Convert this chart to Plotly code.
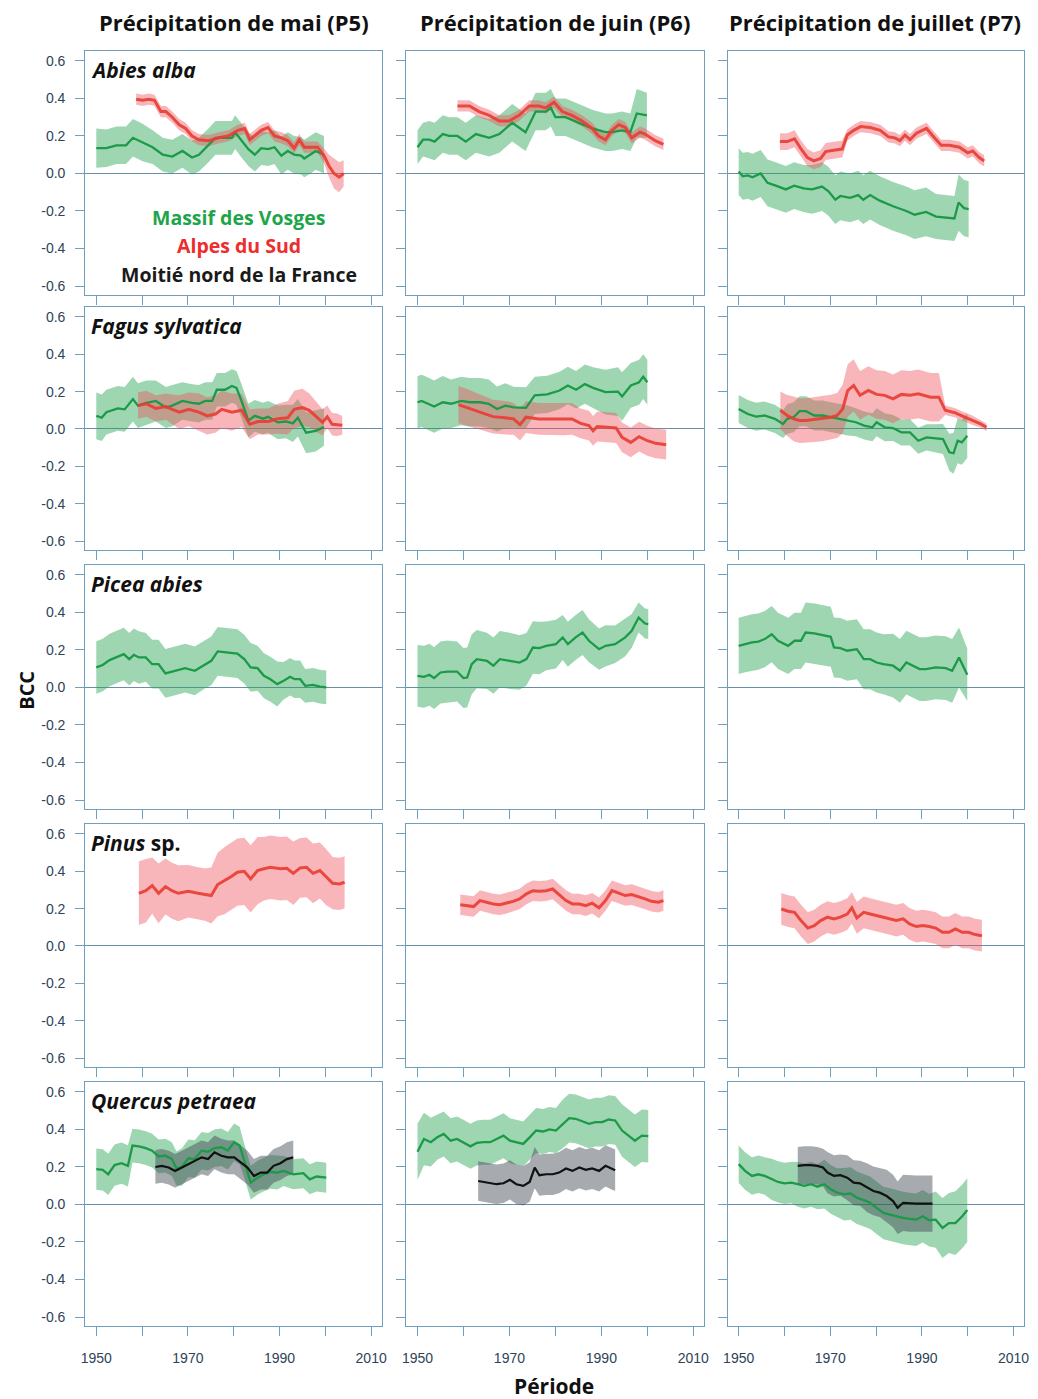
import plotly.graph_objects as go

W, H = 1038, 1399

# ---------------- DATA (BCC moving-window values) ----------------
# Abies alba
abies_p5_vosges_year = [1950, 1952.2, 1954.4, 1956.5, 1958, 1960.1, 1962.3, 1964.5, 1966.6, 1968.8, 1970.9, 1972.4, 1974.5, 1976, 1977.4, 1979.6, 1980.3, 1981.7, 1983.2, 1984.6, 1986, 1987.5, 1988.9, 1990.4, 1991.8, 1993.2, 1994.7, 1995.4, 1996.8, 1997.9, 1999.7]
abies_p5_vosges_mean = [0.135, 0.135, 0.15, 0.15, 0.19, 0.165, 0.14, 0.10, 0.09, 0.12, 0.085, 0.10, 0.15, 0.19, 0.19, 0.19, 0.22, 0.175, 0.13, 0.10, 0.135, 0.13, 0.14, 0.095, 0.12, 0.10, 0.095, 0.08, 0.10, 0.12, 0.10]
abies_p5_vosges_hw = [0.105, 0.1, 0.1, 0.1, 0.1, 0.1, 0.09, 0.09, 0.09, 0.09, 0.09, 0.09, 0.09, 0.09, 0.09, 0.09, 0.09, 0.09, 0.09, 0.09, 0.09, 0.09, 0.09, 0.1, 0.1, 0.1, 0.1, 0.1, 0.1, 0.1, 0.1]
abies_p5_alpes_year = [1958.7, 1960.1, 1961.5, 1962.7, 1964.1, 1965.2, 1966.6, 1968.1, 1969.5, 1970.9, 1972.4, 1974.5, 1976.7, 1978.8, 1980.9, 1982.4, 1983.5, 1984.6, 1986, 1987.5, 1988.9, 1990.4, 1991.8, 1993.2, 1994.3, 1995.4, 1996.8, 1998.3, 1999.7, 2000.8, 2001.9, 2003, 2004]
abies_p5_alpes_mean = [0.396, 0.39, 0.396, 0.39, 0.33, 0.33, 0.30, 0.26, 0.24, 0.20, 0.18, 0.175, 0.19, 0.20, 0.23, 0.24, 0.18, 0.20, 0.23, 0.245, 0.20, 0.19, 0.175, 0.135, 0.18, 0.14, 0.14, 0.14, 0.095, 0.04, 0.0, -0.02, 0.0]
abies_p5_alpes_hw = [0.03] * 28 + [0.04, 0.06, 0.08, 0.08, 0.07]

abies_p6_vosges_year = [1950, 1951.2, 1952.6, 1953.7, 1955.5, 1956.9, 1958.7, 1960.5, 1962.7, 1965.6, 1967.8, 1970.6, 1973.5, 1975.7, 1977.9, 1979, 1980, 1982.2, 1985.1, 1988, 1990.9, 1992.3, 1994.5, 1996.3, 1997.7, 1999.9]
abies_p6_vosges_mean = [0.14, 0.18, 0.18, 0.17, 0.21, 0.2, 0.2, 0.17, 0.21, 0.19, 0.21, 0.27, 0.22, 0.33, 0.33, 0.35, 0.30, 0.30, 0.27, 0.24, 0.22, 0.22, 0.23, 0.22, 0.32, 0.31]
abies_p6_vosges_hw = [0.09, 0.09] + [0.1] * 22 + [0.13, 0.12]
abies_p6_alpes_year = [1958.7, 1961.3, 1963.4, 1965.6, 1967.8, 1969.9, 1972.1, 1974.3, 1976.4, 1977.9, 1979.7, 1981.5, 1983.6, 1985.8, 1988, 1989.4, 1990.9, 1992.3, 1993.8, 1995.2, 1996.6, 1998.4, 1999.5, 2001.7, 2003.5]
abies_p6_alpes_mean = [0.36, 0.36, 0.33, 0.31, 0.28, 0.28, 0.31, 0.36, 0.36, 0.35, 0.38, 0.33, 0.31, 0.28, 0.24, 0.2, 0.18, 0.23, 0.26, 0.245, 0.19, 0.22, 0.21, 0.175, 0.155]
abies_p6_alpes_hw = [0.03] * 25

abies_p7_vosges_year = [1950, 1950.9, 1952, 1953, 1954.8, 1956.3, 1958.1, 1960.3, 1962.1, 1964.2, 1966, 1968.2, 1969.6, 1971.1, 1972.2, 1974.3, 1976.1, 1977.2, 1978.7, 1980.8, 1983.7, 1986.6, 1988.4, 1990.9, 1993.1, 1995.3, 1997.1, 1998, 1999.2, 2000.2]
abies_p7_vosges_mean = [0.01, -0.015, -0.01, -0.02, 0.0, -0.05, -0.065, -0.085, -0.065, -0.08, -0.085, -0.07, -0.095, -0.14, -0.12, -0.13, -0.115, -0.14, -0.115, -0.145, -0.175, -0.2, -0.22, -0.205, -0.23, -0.235, -0.24, -0.155, -0.185, -0.19]
abies_p7_vosges_hw = [0.125] * 10 + [0.13] * 10 + [0.13, 0.13, 0.13, 0.13, 0.12, 0.12, 0.12, 0.15, 0.15, 0.15]
abies_p7_alpes_year = [1959, 1960.6, 1962.2, 1963.5, 1965, 1966.4, 1967.9, 1969, 1971.1, 1972.6, 1973.7, 1975.1, 1976.6, 1978.7, 1980.9, 1982.7, 1984.1, 1985.2, 1986.3, 1987.4, 1988.8, 1991, 1992.4, 1994.2, 1996, 1998.2, 2000, 2001.1, 2002.5, 2003.6]
abies_p7_alpes_mean = [0.17, 0.17, 0.185, 0.135, 0.085, 0.067, 0.08, 0.117, 0.125, 0.13, 0.205, 0.23, 0.25, 0.245, 0.23, 0.195, 0.19, 0.175, 0.205, 0.18, 0.215, 0.24, 0.2, 0.15, 0.15, 0.14, 0.11, 0.12, 0.085, 0.067]
abies_p7_alpes_hw = [0.045] * 10 + [0.03] * 20

# Fagus sylvatica
fagus_p5_vosges_year = [1950, 1951.2, 1952.2, 1953.3, 1954.7, 1956.2, 1958, 1959.1, 1960.9, 1963, 1965.2, 1966.6, 1968.8, 1970.9, 1972.4, 1973.8, 1975.3, 1976.3, 1978.1, 1979.6, 1980.6, 1981.7, 1983.2, 1984.6, 1986.4, 1987.5, 1989.6, 1991.4, 1992.9, 1994, 1995.8, 1997.9, 1999.7]
fagus_p5_vosges_mean = [0.07, 0.06, 0.09, 0.1, 0.11, 0.105, 0.16, 0.125, 0.14, 0.15, 0.115, 0.125, 0.15, 0.14, 0.135, 0.15, 0.15, 0.21, 0.21, 0.23, 0.22, 0.15, 0.045, 0.07, 0.055, 0.065, 0.035, 0.04, 0.03, 0.06, -0.02, -0.01, 0.01]
fagus_p5_vosges_hw = [0.125, 0.125, 0.12, 0.12, 0.12, 0.12, 0.12, 0.12, 0.12, 0.11, 0.11, 0.11, 0.1, 0.1, 0.1, 0.1, 0.1, 0.09, 0.09, 0.09, 0.09, 0.09, 0.09, 0.085, 0.085, 0.085, 0.09, 0.09, 0.1, 0.1, 0.11, 0.11, 0.1]
fagus_p5_alpes_year = [1959.1, 1960.9, 1963, 1965.2, 1966.6, 1968.1, 1970.2, 1972.4, 1974.2, 1976, 1977.4, 1979.6, 1981.7, 1983.5, 1985.3, 1987.5, 1989.6, 1991.8, 1993.2, 1995, 1996.5, 1998.3, 1999.4, 2000.4, 2001.5, 2002.6, 2003.7]
fagus_p5_alpes_mean = [0.125, 0.135, 0.11, 0.12, 0.105, 0.09, 0.105, 0.09, 0.07, 0.08, 0.105, 0.09, 0.1, 0.025, 0.04, 0.04, 0.055, 0.06, 0.105, 0.115, 0.1, 0.06, 0.035, 0.065, 0.025, 0.023, 0.02]
fagus_p5_alpes_hw = [0.07, 0.07, 0.07, 0.07, 0.08, 0.09, 0.09, 0.1, 0.1, 0.1, 0.1, 0.1, 0.09, 0.08, 0.07, 0.07, 0.08, 0.09, 0.1, 0.1, 0.09, 0.08, 0.07, 0.06, 0.06, 0.06, 0.05]

fagus_p6_vosges_year = [1950, 1950.9, 1952.3, 1953.6, 1955.5, 1957.3, 1959.5, 1961.4, 1963.6, 1965.5, 1967.3, 1969.1, 1970.9, 1973.6, 1975.5, 1978.2, 1980.9, 1982.7, 1984.5, 1986.4, 1988.2, 1990.9, 1993.6, 1994.5, 1996.4, 1998.2, 1999.1, 2000]
fagus_p6_vosges_mean = [0.143, 0.15, 0.135, 0.12, 0.143, 0.135, 0.15, 0.143, 0.143, 0.135, 0.107, 0.125, 0.116, 0.113, 0.18, 0.185, 0.206, 0.233, 0.21, 0.24, 0.22, 0.197, 0.2, 0.174, 0.233, 0.25, 0.28, 0.25]
fagus_p6_vosges_hw = [0.14, 0.14, 0.14, 0.14, 0.14, 0.13, 0.13, 0.13, 0.13, 0.13, 0.12, 0.12, 0.11, 0.11, 0.1, 0.1, 0.1, 0.1, 0.1, 0.105, 0.11, 0.12, 0.13, 0.13, 0.12, 0.12, 0.12, 0.12]
fagus_p6_alpes_year = [1958.9, 1960.9, 1963.6, 1966.4, 1969.1, 1970.9, 1972.3, 1973.6, 1976.4, 1979.1, 1981.8, 1983.6, 1985.5, 1987.3, 1988.2, 1989.1, 1991.4, 1993.2, 1994.5, 1996.4, 1998.2, 2000, 2001.8, 2004.1]
fagus_p6_alpes_mean = [0.13, 0.113, 0.09, 0.066, 0.06, 0.054, 0.023, 0.063, 0.054, 0.054, 0.052, 0.054, 0.03, 0.018, -0.01, 0.013, 0.009, 0.005, -0.045, -0.072, -0.041, -0.063, -0.077, -0.084]
fagus_p6_alpes_hw = [0.1, 0.1, 0.095, 0.09, 0.09] + [0.085] * 7 + [0.08] * 12

fagus_p7_vosges_year = [1950, 1952, 1953.8, 1955.6, 1957.9, 1959.7, 1960.6, 1962, 1963.3, 1964.7, 1966.5, 1968.3, 1970.1, 1971.9, 1973.8, 1975.6, 1977.4, 1979.2, 1980.1, 1981.9, 1983.7, 1985.5, 1987.4, 1989.2, 1991, 1992.8, 1994.6, 1996, 1996.9, 1997.8, 1998.7, 1999.9]
fagus_p7_vosges_mean = [0.107, 0.08, 0.066, 0.072, 0.054, 0.027, 0.054, 0.063, 0.095, 0.095, 0.072, 0.072, 0.063, 0.054, 0.045, 0.036, 0.018, 0.009, 0.036, 0.009, 0.005, -0.018, -0.018, -0.063, -0.045, -0.05, -0.054, -0.125, -0.13, -0.063, -0.072, -0.036]
fagus_p7_vosges_hw = [0.075] * 6 + [0.08] * 9 + [0.075] * 5 + [0.07] * 5 + [0.075, 0.08, 0.1, 0.11, 0.12, 0.12, 0.12]
fagus_p7_alpes_year = [1959.1, 1960.6, 1962, 1963.3, 1964.7, 1966.5, 1968.3, 1970.1, 1971.5, 1972.7, 1973.8, 1975.1, 1976.5, 1978.3, 1980.1, 1981.9, 1983.7, 1985.5, 1987.4, 1989.2, 1991.9, 1993.7, 1995.1, 1997.3, 1999.1, 2000.9, 2002.8, 2004.1]
fagus_p7_alpes_mean = [0.1, 0.072, 0.054, 0.045, 0.045, 0.05, 0.054, 0.063, 0.072, 0.107, 0.206, 0.233, 0.18, 0.206, 0.185, 0.18, 0.161, 0.185, 0.18, 0.188, 0.17, 0.17, 0.1, 0.086, 0.066, 0.048, 0.027, 0.009]
fagus_p7_alpes_hw = [0.1, 0.11, 0.12, 0.12, 0.12, 0.12, 0.12, 0.12, 0.12, 0.13, 0.14, 0.14] + [0.13] * 10 + [0.025, 0.025, 0.025, 0.025, 0.02, 0.02]

# Picea abies
picea_p5_vosges_year = [1950, 1951.4, 1952.9, 1955, 1956, 1957.2, 1958.2, 1959.3, 1960.8, 1962.2, 1963.6, 1965.1, 1967.2, 1969.4, 1971.5, 1973.7, 1975.1, 1976.5, 1978.7, 1980.8, 1982.3, 1983.7, 1985.2, 1986.6, 1988, 1989.5, 1990.9, 1992.3, 1993.3, 1994.5, 1995.6, 1997.3, 1998.8, 2000.2]
picea_p5_vosges_mean = [0.107, 0.12, 0.146, 0.169, 0.178, 0.151, 0.174, 0.16, 0.16, 0.124, 0.124, 0.075, 0.089, 0.103, 0.089, 0.124, 0.142, 0.192, 0.187, 0.181, 0.151, 0.107, 0.103, 0.062, 0.044, 0.018, 0.036, 0.057, 0.044, 0.044, 0.009, 0.014, 0.004, 0.0]
picea_p5_vosges_hw = [0.14] * 8 + [0.13] * 14 + [0.12] * 4 + [0.1] * 4 + [0.09] * 4

picea_p6_vosges_year = [1950, 1951.4, 1952.6, 1953.6, 1955, 1956.5, 1958.6, 1960, 1960.8, 1961.8, 1962.9, 1965.1, 1966.5, 1967.9, 1970.1, 1972.2, 1973.7, 1975.1, 1976.5, 1978, 1980.1, 1981.6, 1982.7, 1984.4, 1985.9, 1987.3, 1989.5, 1990.9, 1993, 1995.2, 1996.6, 1998.1, 1999.5, 2000.2]
picea_p6_vosges_mean = [0.062, 0.057, 0.068, 0.05, 0.08, 0.085, 0.085, 0.05, 0.053, 0.124, 0.151, 0.142, 0.116, 0.151, 0.142, 0.133, 0.151, 0.213, 0.21, 0.222, 0.231, 0.267, 0.231, 0.267, 0.293, 0.249, 0.204, 0.222, 0.231, 0.267, 0.302, 0.373, 0.341, 0.338]
picea_p6_vosges_hw = [0.165] * 6 + [0.16] * 4 + [0.155, 0.15, 0.15, 0.15, 0.15, 0.145, 0.14, 0.14, 0.14, 0.13, 0.13, 0.12, 0.12, 0.12, 0.12, 0.115, 0.11, 0.11, 0.1, 0.1, 0.09, 0.08, 0.08, 0.08]

picea_p7_vosges_year = [1950, 1951.4, 1952.9, 1954.3, 1955.7, 1957.2, 1958.6, 1960.8, 1962.2, 1963.6, 1964.6, 1966.5, 1968.7, 1970.1, 1970.8, 1972.2, 1973.7, 1975.8, 1977.3, 1978.7, 1980.1, 1981.6, 1983.7, 1985.2, 1986.6, 1988, 1989.5, 1990.9, 1993, 1995.2, 1996.6, 1998.1, 1999.1, 1999.9]
picea_p7_vosges_mean = [0.222, 0.231, 0.24, 0.245, 0.258, 0.284, 0.249, 0.222, 0.249, 0.249, 0.293, 0.288, 0.276, 0.27, 0.213, 0.21, 0.196, 0.204, 0.151, 0.151, 0.133, 0.124, 0.116, 0.089, 0.133, 0.116, 0.098, 0.098, 0.107, 0.103, 0.089, 0.16, 0.107, 0.068]
picea_p7_vosges_hw = [0.15] * 10 + [0.16] * 12 + [0.17] * 9 + [0.16, 0.15, 0.14]

# Pinus sp.
pinus_p5_alpes_year = [1959.3, 1960.8, 1962.2, 1963.6, 1965.1, 1966.5, 1967.9, 1970.1, 1972.2, 1973.7, 1975.1, 1976.5, 1978, 1979.4, 1980.8, 1982.3, 1983.7, 1985.2, 1986.6, 1988, 1990.2, 1991.6, 1993, 1994.5, 1995.9, 1997.3, 1998.8, 2000.2, 2001.6, 2003.1, 2004.2]
pinus_p5_alpes_mean = [0.282, 0.296, 0.323, 0.282, 0.318, 0.296, 0.282, 0.293, 0.282, 0.275, 0.27, 0.329, 0.35, 0.371, 0.395, 0.4, 0.359, 0.404, 0.413, 0.421, 0.413, 0.416, 0.389, 0.418, 0.421, 0.389, 0.404, 0.368, 0.336, 0.332, 0.341]
pinus_p5_alpes_hw = [0.17, 0.17, 0.15, 0.16, 0.15, 0.15, 0.15, 0.14, 0.14, 0.14, 0.15, 0.17, 0.18, 0.18, 0.18, 0.18, 0.18, 0.18, 0.17, 0.17, 0.17, 0.17, 0.17, 0.16, 0.16, 0.16, 0.15, 0.15, 0.14, 0.14, 0.14]

pinus_p6_alpes_year = [1959.3, 1960.8, 1962.2, 1963.6, 1965.1, 1966.5, 1967.9, 1969.4, 1970.8, 1972.2, 1973.7, 1975.1, 1976.5, 1978, 1979.4, 1980.8, 1982.3, 1983.7, 1985.2, 1986.6, 1988, 1989.5, 1990.9, 1992.3, 1993.7, 1995.2, 1996.6, 1998.1, 1999.5, 2000.9, 2002.4, 2003.5]
pinus_p6_alpes_mean = [0.221, 0.216, 0.211, 0.243, 0.234, 0.225, 0.221, 0.229, 0.239, 0.252, 0.279, 0.296, 0.293, 0.296, 0.305, 0.275, 0.243, 0.225, 0.225, 0.216, 0.229, 0.204, 0.243, 0.296, 0.282, 0.27, 0.275, 0.264, 0.252, 0.239, 0.234, 0.243]
pinus_p6_alpes_hw = [0.055] * 32

pinus_p7_alpes_year = [1959.3, 1960.8, 1962.2, 1963.6, 1965.1, 1966.5, 1967.9, 1969.4, 1970.8, 1972.2, 1973.7, 1974.7, 1975.8, 1977.3, 1978.7, 1980.1, 1981.6, 1983, 1984.4, 1985.9, 1987.3, 1988.8, 1990.2, 1991.6, 1993, 1994.5, 1995.9, 1997.3, 1998.8, 2000.2, 2001.6, 2003.1]
pinus_p7_alpes_mean = [0.198, 0.186, 0.18, 0.136, 0.096, 0.109, 0.136, 0.154, 0.145, 0.154, 0.171, 0.204, 0.15, 0.18, 0.171, 0.163, 0.154, 0.145, 0.136, 0.145, 0.118, 0.104, 0.109, 0.104, 0.096, 0.073, 0.073, 0.091, 0.073, 0.073, 0.061, 0.055]
pinus_p7_alpes_hw = [0.085] * 32

# Quercus petraea
quercus_p5_vosges_year = [1950, 1951.4, 1952.6, 1954, 1955.5, 1956.9, 1957.9, 1959.3, 1960.8, 1962.2, 1963.6, 1965.1, 1966.5, 1967.5, 1968.7, 1970.1, 1971.5, 1973, 1974.4, 1975.8, 1977.3, 1978.7, 1980.1, 1981.3, 1982.3, 1983.7, 1985.2, 1986.6, 1988, 1989.5, 1990.9, 1993, 1995.2, 1996.6, 1998.1, 2000.2]
quercus_p5_vosges_mean = [0.188, 0.185, 0.161, 0.21, 0.22, 0.206, 0.314, 0.31, 0.3, 0.287, 0.256, 0.26, 0.242, 0.192, 0.2, 0.246, 0.242, 0.287, 0.281, 0.3, 0.305, 0.287, 0.332, 0.314, 0.233, 0.116, 0.143, 0.161, 0.174, 0.17, 0.179, 0.161, 0.167, 0.134, 0.149, 0.143]
quercus_p5_vosges_hw = [0.11] * 6 + [0.09] * 8 + [0.1] * 10 + [0.09] * 6 + [0.08] * 6
quercus_p5_nord_year = [1962.9, 1964.3, 1965.8, 1967.2, 1968.7, 1970.1, 1971.5, 1973, 1974.4, 1975.8, 1977.3, 1978.7, 1980.1, 1981.6, 1983, 1984.4, 1985.9, 1987.3, 1988.7, 1990.2, 1991.6, 1993]
quercus_p5_nord_mean = [0.2, 0.206, 0.197, 0.179, 0.197, 0.215, 0.233, 0.251, 0.242, 0.278, 0.26, 0.251, 0.251, 0.224, 0.197, 0.152, 0.17, 0.17, 0.206, 0.22, 0.242, 0.251]
quercus_p5_nord_hw = [0.09] * 22

quercus_p6_vosges_year = [1950, 1951.4, 1952.9, 1954.3, 1955.7, 1957.2, 1958.6, 1960, 1961.5, 1962.9, 1964.3, 1965.8, 1967.2, 1968.7, 1970.1, 1971.5, 1973, 1974.4, 1975.8, 1977.3, 1978.7, 1980.1, 1981.6, 1983, 1984.4, 1985.9, 1987.3, 1988.7, 1990.2, 1991.6, 1993, 1994.5, 1995.9, 1997.3, 1998.8, 2000.2]
quercus_p6_vosges_mean = [0.281, 0.349, 0.332, 0.358, 0.376, 0.34, 0.349, 0.332, 0.31, 0.328, 0.332, 0.332, 0.349, 0.367, 0.34, 0.332, 0.323, 0.358, 0.394, 0.389, 0.4, 0.394, 0.43, 0.46, 0.457, 0.443, 0.43, 0.439, 0.439, 0.453, 0.448, 0.394, 0.367, 0.34, 0.367, 0.364]
quercus_p6_vosges_hw = [0.15, 0.14, 0.13] + [0.12] * 19 + [0.13] * 9 + [0.14] * 5
quercus_p6_nord_year = [1963.2, 1964.3, 1965.8, 1967.2, 1968.7, 1970.1, 1971.5, 1973, 1974.4, 1975.5, 1976.5, 1978, 1979.4, 1980.8, 1982.3, 1983.7, 1985.2, 1986.6, 1988, 1989.5, 1990.9, 1992.3, 1993]
quercus_p6_nord_mean = [0.125, 0.12, 0.113, 0.108, 0.113, 0.131, 0.108, 0.099, 0.12, 0.197, 0.156, 0.161, 0.161, 0.17, 0.192, 0.179, 0.197, 0.185, 0.192, 0.179, 0.206, 0.188, 0.183]
quercus_p6_nord_hw = [0.105] * 9 + [0.11] * 14

quercus_p7_vosges_year = [1950, 1951.4, 1952.9, 1954.3, 1955.7, 1957.2, 1958.6, 1960, 1961.5, 1962.9, 1964.3, 1965.8, 1967.2, 1968.7, 1970.1, 1971.5, 1973, 1974.4, 1975.8, 1977.3, 1978.7, 1980.1, 1981.6, 1983, 1984.4, 1985.9, 1987.3, 1988.7, 1990.2, 1991.6, 1993, 1994.5, 1995.9, 1997.3, 1998.8, 1999.9]
quercus_p7_vosges_mean = [0.215, 0.179, 0.152, 0.161, 0.152, 0.134, 0.12, 0.113, 0.116, 0.108, 0.099, 0.108, 0.095, 0.108, 0.081, 0.063, 0.054, 0.059, 0.036, 0.023, 0.009, -0.018, -0.045, -0.054, -0.063, -0.072, -0.077, -0.081, -0.063, -0.084, -0.081, -0.125, -0.099, -0.099, -0.063, -0.03]
quercus_p7_vosges_hw = [0.1] * 5 + [0.11] * 4 + [0.12] * 4 + [0.13] * 3 + [0.14] * 14 + [0.15, 0.16, 0.16, 0.17, 0.17, 0.17]
quercus_p7_nord_year = [1962.9, 1964.3, 1965.8, 1967.2, 1968.4, 1969.4, 1970.8, 1972.2, 1973.7, 1975.1, 1976.5, 1978, 1979.4, 1980.8, 1982.3, 1983.7, 1984.7, 1985.9, 1987.3, 1988.7, 1990.2, 1992.3]
quercus_p7_nord_mean = [0.206, 0.21, 0.21, 0.206, 0.197, 0.17, 0.152, 0.156, 0.143, 0.116, 0.113, 0.09, 0.072, 0.063, 0.045, 0.018, -0.018, 0.009, 0.005, 0.005, 0.004, 0.004]
quercus_p7_nord_hw = [0.1] * 5 + [0.11] * 3 + [0.12] * 3 + [0.13] * 3 + [0.14] * 3 + [0.15] * 5

# Labels
column_titles = ["Précipitation de mai (P5)", "Précipitation de juin (P6)", "Précipitation de juillet (P7)"]
species_labels = ["<i>Abies alba</i>", "<i>Fagus sylvatica</i>", "<i>Picea abies</i>", "<i>Pinus</i> sp.", "<i>Quercus petraea</i>"]
legend_labels = ["Massif des Vosges", "Alpes du Sud", "Moitié nord de la France"]
x_tick_values = [1950, 1960, 1970, 1980, 1990, 2000, 2010]
x_tick_labels = ["1950", "", "1970", "", "1990", "", "2010"]
y_tick_values = [-0.6, -0.4, -0.2, 0.0, 0.2, 0.4, 0.6]
y_tick_labels = ["-0.6", "-0.4", "-0.2", "0.0", "0.2", "0.4", "0.6"]

# ---------------- STYLE ----------------
STYLE = {
    "vosges": dict(line="#1b9a48", band="rgba(40,165,85,0.45)", width=2.3),
    "alpes": dict(line="rgba(232,62,52,0.92)", band="rgba(240,80,90,0.42)", width=3.0),
    "nord": dict(line="#111111", band="rgba(60,66,78,0.45)", width=2.2),
}
FRAME = "#6f9fbd"
TICKFONT = dict(family="Liberation Sans Narrow, Liberation Sans, Arial", size=14, color="#2e4358")
TXT = "Open Sans, Lato, sans-serif"

panels = {
    (0, 0): [("vosges", abies_p5_vosges_year, abies_p5_vosges_mean, abies_p5_vosges_hw),
             ("alpes", abies_p5_alpes_year, abies_p5_alpes_mean, abies_p5_alpes_hw)],
    (0, 1): [("vosges", abies_p6_vosges_year, abies_p6_vosges_mean, abies_p6_vosges_hw),
             ("alpes", abies_p6_alpes_year, abies_p6_alpes_mean, abies_p6_alpes_hw)],
    (0, 2): [("vosges", abies_p7_vosges_year, abies_p7_vosges_mean, abies_p7_vosges_hw),
             ("alpes", abies_p7_alpes_year, abies_p7_alpes_mean, abies_p7_alpes_hw)],
    (1, 0): [("vosges", fagus_p5_vosges_year, fagus_p5_vosges_mean, fagus_p5_vosges_hw),
             ("alpes", fagus_p5_alpes_year, fagus_p5_alpes_mean, fagus_p5_alpes_hw)],
    (1, 1): [("vosges", fagus_p6_vosges_year, fagus_p6_vosges_mean, fagus_p6_vosges_hw),
             ("alpes", fagus_p6_alpes_year, fagus_p6_alpes_mean, fagus_p6_alpes_hw)],
    (1, 2): [("vosges", fagus_p7_vosges_year, fagus_p7_vosges_mean, fagus_p7_vosges_hw),
             ("alpes", fagus_p7_alpes_year, fagus_p7_alpes_mean, fagus_p7_alpes_hw)],
    (2, 0): [("vosges", picea_p5_vosges_year, picea_p5_vosges_mean, picea_p5_vosges_hw)],
    (2, 1): [("vosges", picea_p6_vosges_year, picea_p6_vosges_mean, picea_p6_vosges_hw)],
    (2, 2): [("vosges", picea_p7_vosges_year, picea_p7_vosges_mean, picea_p7_vosges_hw)],
    (3, 0): [("alpes", pinus_p5_alpes_year, pinus_p5_alpes_mean, pinus_p5_alpes_hw)],
    (3, 1): [("alpes", pinus_p6_alpes_year, pinus_p6_alpes_mean, pinus_p6_alpes_hw)],
    (3, 2): [("alpes", pinus_p7_alpes_year, pinus_p7_alpes_mean, pinus_p7_alpes_hw)],
    (4, 0): [("vosges", quercus_p5_vosges_year, quercus_p5_vosges_mean, quercus_p5_vosges_hw),
             ("nord", quercus_p5_nord_year, quercus_p5_nord_mean, quercus_p5_nord_hw)],
    (4, 1): [("vosges", quercus_p6_vosges_year, quercus_p6_vosges_mean, quercus_p6_vosges_hw),
             ("nord", quercus_p6_nord_year, quercus_p6_nord_mean, quercus_p6_nord_hw)],
    (4, 2): [("vosges", quercus_p7_vosges_year, quercus_p7_vosges_mean, quercus_p7_vosges_hw),
             ("nord", quercus_p7_nord_year, quercus_p7_nord_mean, quercus_p7_nord_hw)],
}

# panel pixel boxes
col_px = [(82, 381), (406, 706), (730, 1029)]
row_px = [(51, 295), (307, 550), (565, 809), (824, 1067), (1082, 1326)]
X_RANGE = [1947.6, 2012.3]
Y_RANGE = [-0.648, 0.653]

fig = go.Figure()
layout = dict(width=W, height=H, margin=dict(l=0, r=0, t=0, b=0),
              paper_bgcolor="white", plot_bgcolor="white", showlegend=False)

for r in range(5):
    for c in range(3):
        k = r * 3 + c + 1
        xs = "" if k == 1 else str(k)
        x0, x1 = col_px[c]
        y0, y1 = row_px[r]
        layout["xaxis" + xs] = dict(
            domain=[x0 / W, x1 / W], range=X_RANGE, anchor="y" + xs,
            showgrid=False, zeroline=False, showline=True, mirror=True,
            linecolor=FRAME, linewidth=1.2, ticks="outside", ticklen=9,
            tickcolor=FRAME, tickwidth=1.2, tickvals=x_tick_values,
            ticktext=x_tick_labels, showticklabels=(r == 4), tickfont=TICKFONT,
            ticklabelstandoff=10, fixedrange=True)
        layout["yaxis" + xs] = dict(
            domain=[1 - y1 / H, 1 - y0 / H], range=Y_RANGE, anchor="x" + xs,
            showgrid=False, zeroline=True, zerolinecolor="#6a8ea8", zerolinewidth=1.2,
            showline=True, mirror=True, linecolor=FRAME, linewidth=1.2,
            ticks="outside", ticklen=9, tickcolor=FRAME, tickwidth=1.2,
            tickvals=y_tick_values, ticktext=y_tick_labels, showticklabels=(c == 0),
            tickfont=TICKFONT, ticklabelstandoff=7, fixedrange=True)

        series = panels[(r, c)]
        xa, ya = "x" + xs, "y" + xs
        for reg, yr, mean, hw in series:
            assert len(yr) == len(mean) == len(hw), (r, c, reg, len(yr), len(mean), len(hw))
            hi = [m + h for m, h in zip(mean, hw)]
            lo = [m - h for m, h in zip(mean, hw)]
            fig.add_trace(go.Scatter(x=list(yr) + list(yr)[::-1], y=hi + lo[::-1],
                                     fill="toself", fillcolor=STYLE[reg]["band"],
                                     line=dict(width=0), mode="lines", hoverinfo="skip",
                                     xaxis=xa, yaxis=ya))
        for reg, yr, mean, hw in series:
            fig.add_trace(go.Scatter(x=yr, y=mean, mode="lines",
                                     line=dict(color=STYLE[reg]["line"], width=STYLE[reg]["width"]),
                                     xaxis=xa, yaxis=ya))

annotations = []


def px_ann(text, x, y, size, color="#111", xanchor="center", yanchor="middle", angle=0,
           weight="bold", family=TXT):
    annotations.append(dict(text=text, x=x / W, y=1 - y / H, xref="paper", yref="paper",
                            showarrow=False, xanchor=xanchor, yanchor=yanchor, textangle=angle,
                            font=dict(family=family, size=size, color=color, weight=weight)))


# column titles
title_centers = [232, 556, 879]
for cx, t in zip(title_centers, column_titles):
    px_ann(t, cx, 22, 22)

# species labels
for r, s in enumerate(species_labels):
    px_ann(s, 86, row_px[r][0] + 19, 21, xanchor="left")

# legend text in the first panel
legend_colors = ["#1ea54a", "#ee2d2d", "#1a1a1a"]
for i, (t, col) in enumerate(zip(legend_labels, legend_colors)):
    px_ann(t, 237, 218 + 28 * i, 19.5, color=col)

# axis titles
px_ann("BCC", 22, 690, 20, angle=-90)
px_ann("Période", 555, 1386, 21)

layout["annotations"] = annotations
fig.update_layout(**layout)
fig.write_html("out.html", config={"displayModeBar": False},
               post_script="document.body.style.margin='0px';")
